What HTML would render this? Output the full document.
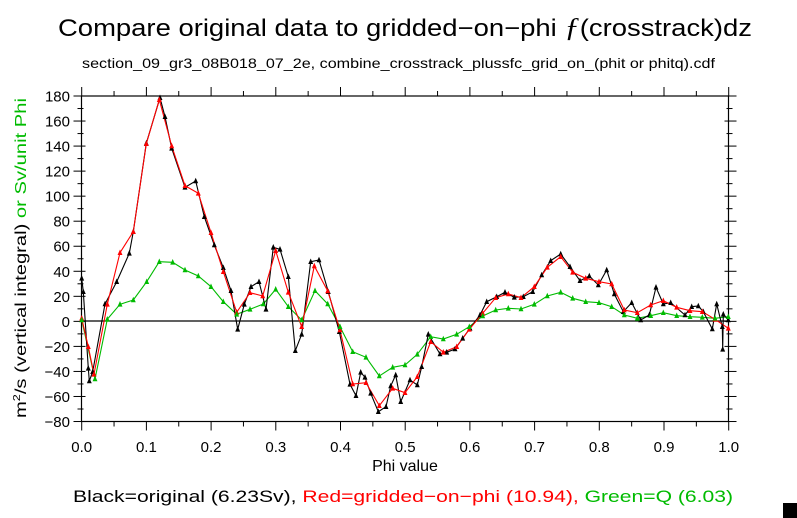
<!DOCTYPE html>
<html><head><style>
body{margin:0;background:#fff;}
svg{display:block;font-family:"Liberation Sans",sans-serif;}
</style></head><body>
<svg width="797" height="518" viewBox="0 0 797 518" xmlns="http://www.w3.org/2000/svg">
<rect width="797" height="518" fill="#fff"/>
<text x="58" y="36" font-size="24" textLength="694" lengthAdjust="spacingAndGlyphs" fill="#000">Compare original data to gridded−on−phi <tspan font-family="Liberation Serif" font-style="italic" font-size="27">ƒ</tspan>(crosstrack)dz</text>
<text x="82" y="68" font-size="14" textLength="633" lengthAdjust="spacingAndGlyphs" fill="#000">section_09_gr3_08B018_07_2e, combine_crosstrack_plussfc_grid_on_(phit or phitq).cdf</text>
<g stroke="#000" stroke-width="1.2" fill="none">
<rect x="81.5" y="96" width="647" height="325.5"/>
<line x1="81.5" y1="321" x2="728.5" y2="321"/>
</g>
<g id="tk" stroke="#000" stroke-width="1"></g>
<g font-size="15" fill="#000" text-anchor="end" id="yl"></g>
<g font-size="15" fill="#000" text-anchor="middle" id="xl"></g>
<text x="405" y="471" font-size="16" text-anchor="middle">Phi value</text>
<text transform="translate(26,418) rotate(-90)" font-size="16" textLength="320" lengthAdjust="spacingAndGlyphs"><tspan fill="#000">m</tspan><tspan fill="#000" font-size="10" dy="-6">2</tspan><tspan fill="#000" dy="6">/s (vertical integral)</tspan><tspan fill="#00bb00"> or Sv/unit Phi</tspan></text>
<text x="73" y="502" font-size="17" textLength="660" lengthAdjust="spacingAndGlyphs"><tspan fill="#000">Black=original (6.23Sv), </tspan><tspan fill="#ff0000">Red=gridded−on−phi (10.94), </tspan><tspan fill="#00bb00">Green=Q (6.03)</tspan></text>
<rect x="783" y="503" width="14" height="15" fill="#000"/>
<polyline fill="none" stroke="#00bb00" stroke-width="1.1" points="81.7,320 95,379 107.3,319.3 120,304.3 133.3,300 146.7,281.7 159.3,261.7 172.7,262.3 185,270 198.3,276 211,286.7 223.3,301.7 236.7,314.3 250,309.3 263.3,304 275.7,289.3 288.3,306.7 301.7,320 315,290.7 327.7,304 340,326.7 352.7,351.7 366,357.3 379.3,376 392.7,367.3 405,365 417.3,354.3 430.7,336.7 443.3,339 456.7,334.3 469.3,326.7 482.7,316 495.7,310 508.3,308.3 521,309 534.3,304.3 547.3,296 560.7,292.3 572.7,298.3 585.7,301.7 599,302.7 611.7,306.7 624.3,315 637.3,318.3 650.7,315.7 663.3,312.7 676.7,315.7 690,316.7 702.3,317.3 715,318.3 728.3,316.7" id="g"/>
<polyline fill="none" stroke="#000" stroke-width="1.1" points="81.7,278.3 83.3,291.7 88.3,368.3 89.3,381 92.7,371.7 105,304 116.7,281.7 129.3,253.3 133.3,231.7 146.3,143.3 160,97.7 165,116.7 171.7,148.3 185,187.3 195.7,181 204.3,216.7 214.3,245 223.3,267.7 231,290.7 237.7,329.3 244.3,304.3 251,286.7 259,281.7 266,309.3 273.3,247.3 280,249.3 288.3,276.7 295.3,350.7 301.7,334.3 310.7,261.7 319,260 328.3,291.7 339.3,331.7 350,384.3 356,395.7 360.7,372.3 365,377.3 370.7,393.3 378.3,411.7 386,406.7 390.7,386 395.7,375 400.7,401.7 410,380 417.3,385 421.7,366.7 428.3,334.3 440,354 446.7,352.3 455,349 462.7,338.3 470,328.3 480,315 486.7,301.7 496.7,296.7 505,292.3 514.3,297.3 523.3,296.7 532.7,291.7 541.7,275 550.7,260.7 560.7,254 570,266.7 580,280.7 589.3,276 598.3,285 606.7,270 614.3,294 623.3,311.7 631.7,302.7 640.7,320 649.3,315 656,287.3 663.3,304 670.7,302.7 685,315 691.7,306.7 698.3,306 703.3,311.7 712.3,329 716.7,304 722.3,326.7 722.7,349.3 723.3,314.3 728.3,320" id="b"/>
<polyline fill="none" stroke="#ff0000" stroke-width="1.1" points="81.7,318.3 88.3,346.7 94,374.3 107.3,304.3 120,252.7 133.3,231.7 146.3,143.7 159.3,99.7 171.7,146 185,185.7 198.3,193.3 211,232.7 223.3,271.7 236.7,312.3 250,292.7 262.7,296 275.7,250.7 288.3,292.3 301.7,326.7 314.3,266 327.7,291 340,330 352.7,384 366,382.7 379.3,405.7 392.7,388.3 405,392.7 417.3,376.7 430.7,341.7 443.3,352.3 456.7,346.7 469.3,329.3 482.7,313.3 495.7,297.7 508.3,294 521,297.7 534.3,286.7 547.3,267.3 560.7,256.7 572.7,272.3 585.7,278.3 599,281.7 611.7,284 624.3,310 637.3,312.7 650.7,305 663.3,300.7 676.7,307.3 690,310.7 702.3,311.7 715,319.3 728.3,328.3" id="r"/>
<g id="m"></g>
</svg>
<script>
var NS="http://www.w3.org/2000/svg";
function el(p,t,a,txt){var e=document.createElementNS(NS,t);for(var k in a)e.setAttribute(k,a[k]);if(txt!==undefined)e.textContent=txt;document.getElementById(p).appendChild(e);}
var x0=81.7,dx=64.7,y0=96,dy=1.252;
for(var i=0;i<=20;i++){var x=x0+i*dx/2,L=(i%2==0)?9:5;
 el("tk","line",{x1:x,y1:421.5,x2:x,y2:421.5+L});el("tk","line",{x1:x,y1:96,x2:x,y2:96-L});
 if(i%2==0)el("xl","text",{x:x,y:452},(i/20).toFixed(1));}
for(var v=180;v>=-80;v-=10){var y=y0+(180-v)*dy,L=(v%20==0)?8:4;
 el("tk","line",{x1:81.5-L,y1:y,x2:81.5+L/2,y2:y});el("tk","line",{x1:728.5+L,y1:y,x2:728.5-L/2,y2:y});
 if(v%20==0)el("yl","text",{x:70,y:y+5.5},(v<0?"−"+(-v):""+v));}
[["b","#000"],["r","#ff0000"],["g","#00bb00"]].forEach(function(s){
 var pts=document.getElementById(s[0]).getAttribute("points").trim().split(/\s+/);
 pts.forEach(function(p){var c=p.split(",");var x=+c[0],y=+c[1];
  el("m","path",{d:"M"+(x-2)+","+(y+2)+"L"+x+","+(y-2.5)+"L"+(x+2)+","+(y+2)+"Z",fill:s[1],stroke:s[1],"stroke-width":"0.6"});});});
</script>
</body></html>
